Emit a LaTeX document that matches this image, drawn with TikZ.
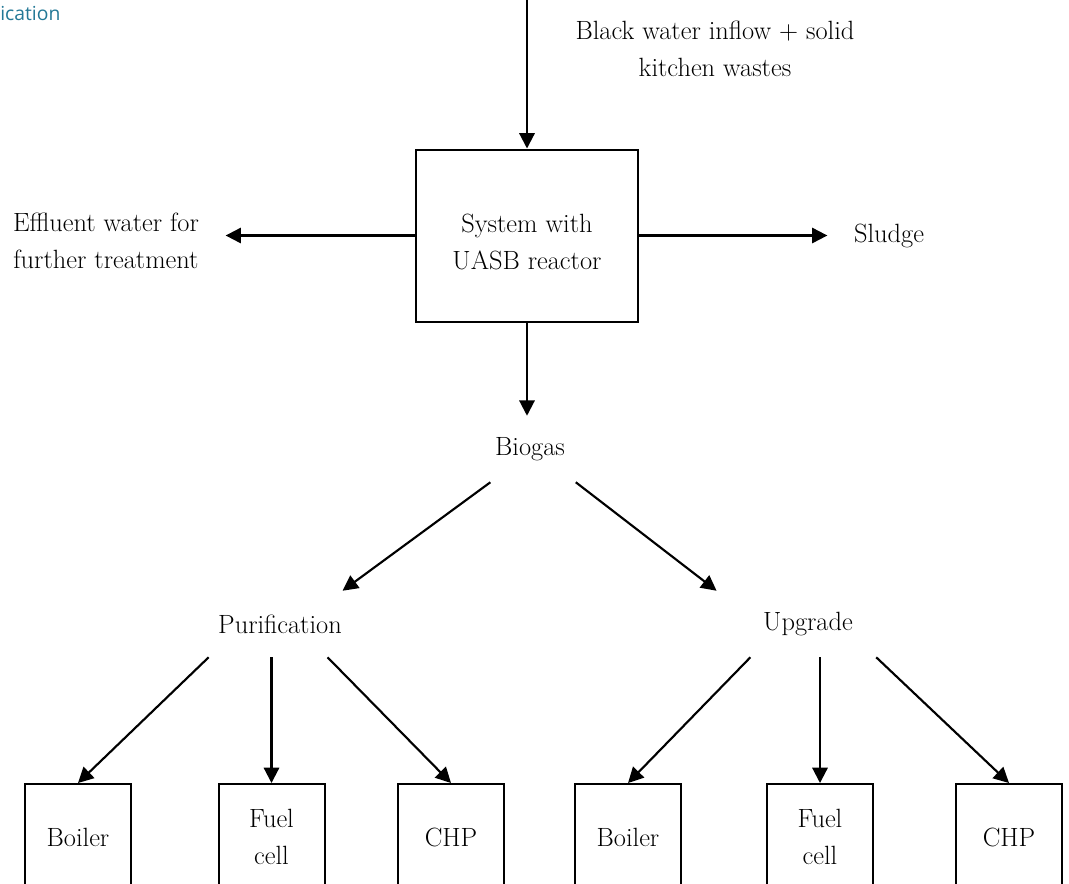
\documentclass[tikz,border=0pt]{standalone}
\usepackage{fontspec}
\newfontfamily\headfont{Open Sans}
\usetikzlibrary{arrows.meta}
\definecolor{headteal}{RGB}{35,120,150}
\tikzset{
  txt/.style = {align=center,font=\fontsize{19.8}{27.5}\selectfont,text=black},
  hub/.style = {txt,inner sep=0pt,minimum height=49.5pt},
  sysbox/.style = {txt,draw=black,fill=white,line width=1.5pt,minimum width=166.5pt,minimum height=129pt},
  unit/.style = {txt,draw=black,fill=white,line width=1.5pt,inner sep=0pt,minimum width=79.5pt,minimum height=79.5pt},
  %
  flow/.style = {-{Triangle[length=11.5pt,width=11.5pt]},line width=1.6pt,draw=black},
  gap/.style = {shorten >=16.5pt},
}
\begin{document}
\begin{tikzpicture}[x=0.75pt,y=-0.75pt]
    \useasboundingbox (0,0) rectangle (1069,883);

    \node[anchor=base west,inner sep=0pt,text=headteal,font=\headfont\fontsize{14.5}{16}\selectfont] at (0,20) (head) {ication};

    \coordinate (inlet) at (527,-2);
    \node[txt] at (715,49) (inflow) {Black water inflow + solid\\kitchen wastes};
    \node[sysbox] at (527,235.5) (sys) {\rule{0pt}{24pt}System with\\UASB reactor};
    \node[txt] at (106,241) (effluent) {Effluent water for\\further treatment};
    \node[txt] at (889,236) (sludge) {Sludge};

    \node[hub,minimum width=69pt] at (530,449) (biogas) {Biogas};
    \node[hub,minimum width=108pt] at (280,624) (purif) {Purification};
    \node[hub,minimum width=138pt] at (808,624) (upgrade) {Upgrade};

    \node[unit] at (78,837) (boiler1) {Boiler};
    \node[unit] at (271.5,837) (fuel1) {Fuel\\cell};
    \node[unit] at (451,837) (chp1) {CHP};
    \node[unit] at (628,837) (boiler2) {Boiler};
    \node[unit] at (820,837) (fuel2) {Fuel\\cell};
    \node[unit] at (1009,837) (chp2) {CHP};


    \draw[flow] (inlet) -- (sys.north);
    \draw[flow,gap] (sys.west) -- (sys.west -| effluent.east);
    \draw[flow,gap] (sys.east) -- (sys.east -| sludge.west);
    \draw[flow] (sys.south) -- (sys.south |- biogas.north);

    \draw[flow] (biogas.-140) -- (purif.28);
    \draw[flow] (biogas.-36) -- (upgrade.160);

    \draw[flow] (purif.-155) -- (boiler1.north);
    \draw[flow] (fuel1.north |- purif.south) -- (fuel1.north);
    \draw[flow] (purif.-35) -- (chp1.north);

    \draw[flow] (upgrade.-150) -- (boiler2.north);
    \draw[flow] (fuel2.north |- upgrade.south) -- (fuel2.north);
    \draw[flow] (upgrade.-26) -- (chp2.north);

\end{tikzpicture}
\end{document}
